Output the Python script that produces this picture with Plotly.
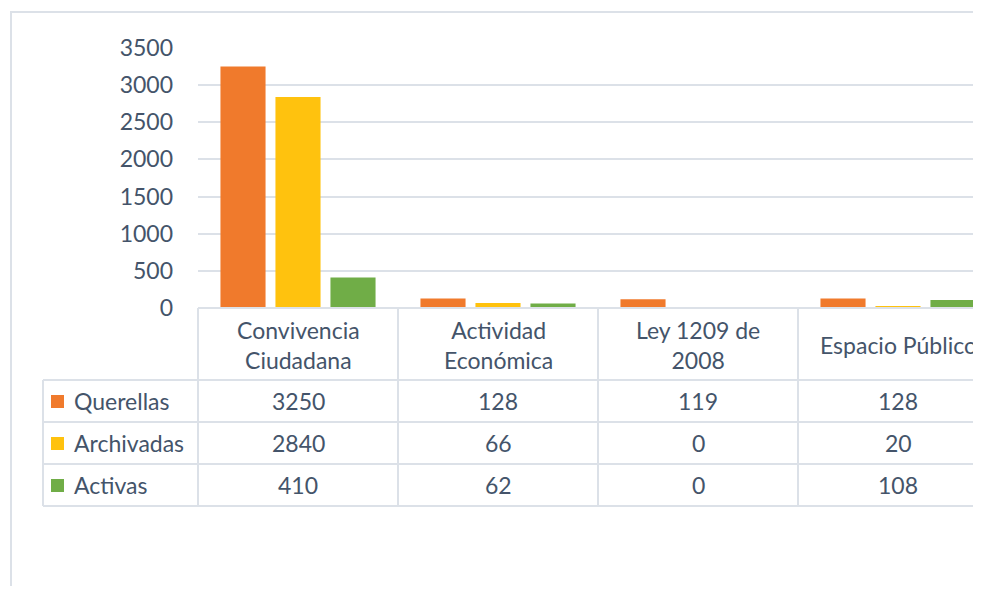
import plotly.graph_objects as go

categories = ["Convivencia<br>Ciudadana", "Actividad<br>Económica", "Ley 1209 de<br>2008", "Espacio Público"]
series_names = ["Querellas", "Archivadas", "Activas"]
querellas = [3250, 128, 119, 128]
archivadas = [2840, 66, 0, 20]
activas = [410, 62, 0, 108]
y_ticks = [0, 500, 1000, 1500, 2000, 2500, 3000, 3500]

values = [querellas, archivadas, activas]
colors = ["#F07A2C", "#FFC20E", "#70AD47"]

# page has an 8px body margin; work in page pixels and convert
OFF = 8
W, H = 981 - OFF, 594 - 2 * OFF
PL, PT, PB = 198, 48, 308          # plot area in page pixels (left, top of 3500, bottom at 0)
ML = PL - OFF
MT = PT - OFF
MB = H - (PB - OFF)
PW = W - ML
PH = PB - PT
XR = [-0.5, -0.5 + PW / 200.0]
TXT = "#44546A"
GRID = "#DCE1E8"
FONT = "Lato"
FS = 23

def px(x):
    return (x - PL) / PW

def py(y):
    return (PB - y) / PH

def xval(v):
    return (v - XR[0]) / (XR[1] - XR[0])

xpos = list(range(len(categories)))

fig = go.Figure()
for name, vals, c in zip(series_names, values, colors):
    fig.add_trace(go.Bar(x=xpos, y=vals, name=name, marker=dict(color=c, line=dict(width=0)),
                         showlegend=False))

shapes = []
ann = []
line = dict(color=GRID, width=2)
# outer border
shapes.append(dict(type="rect", xref="paper", yref="paper", x0=px(11), x1=px(1010), y0=py(620), y1=py(12),
                   line=dict(color=GRID, width=2), fillcolor="rgba(0,0,0,0)", layer="below"))
# horizontal table lines
for yy in [380, 422, 464, 506]:
    shapes.append(dict(type="line", xref="paper", yref="paper", x0=px(43), x1=1.02, y0=py(yy), y1=py(yy), line=line))
shapes.append(dict(type="line", xref="paper", yref="paper", x0=0, x1=1.02, y0=py(308), y1=py(308), line=line))
# vertical lines
shapes.append(dict(type="line", xref="paper", yref="paper", x0=px(43), x1=px(43), y0=py(380), y1=py(506), line=line))
for b in [-0.5, 0.5, 1.5, 2.5, 3.5]:
    xp = xval(b)
    shapes.append(dict(type="line", xref="paper", yref="paper", x0=xp, x1=xp, y0=py(308), y1=py(506), line=line))

for i, cat in enumerate(categories):
    ann.append(dict(xref="paper", yref="paper", x=xval(i), y=py(345), text=cat, showarrow=False,
                    font=dict(family=FONT, size=FS, color=TXT), xanchor="center", yanchor="middle"))
row_y = [401, 443, 485]
for r, (name, vals, c) in enumerate(zip(series_names, values, colors)):
    yc = row_y[r]
    shapes.append(dict(type="rect", xref="paper", yref="paper", x0=px(51), x1=px(64), y0=py(yc + 7), y1=py(yc - 6),
                       fillcolor=c, line=dict(width=0)))
    ann.append(dict(xref="paper", yref="paper", x=px(72), y=py(yc), text=name, showarrow=False,
                    font=dict(family=FONT, size=FS, color=TXT), xanchor="left", yanchor="middle"))
    for i, v in enumerate(vals):
        ann.append(dict(xref="paper", yref="paper", x=xval(i), y=py(yc), text=str(v), showarrow=False,
                        font=dict(family=FONT, size=FS, color=TXT), xanchor="center", yanchor="middle"))

fig.update_layout(
    width=W, height=H,
    margin=dict(l=ML, r=0, t=MT, b=MB, pad=0),
    paper_bgcolor="white", plot_bgcolor="white",
    barmode="group", bargap=0.175, bargroupgap=0.18,
    shapes=shapes, annotations=ann,
    xaxis=dict(range=XR, showticklabels=False, showgrid=False, zeroline=False, showline=False, fixedrange=True),
    yaxis=dict(range=[0, 3500], tickvals=y_ticks, showgrid=True, gridcolor=GRID, gridwidth=2,
               zeroline=False, showline=False, ticks="", ticklabelstandoff=24,
               tickfont=dict(family=FONT, size=FS, color=TXT)),
    font=dict(family=FONT, color=TXT),
)
fig.write_html("out.html")
